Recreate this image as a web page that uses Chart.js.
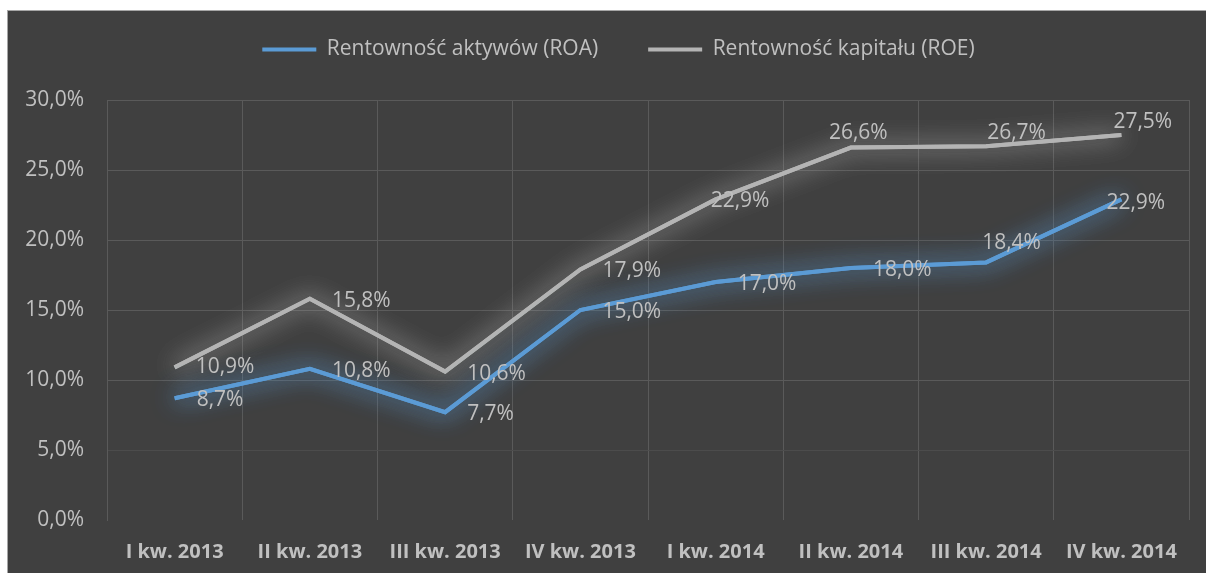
<!DOCTYPE html>
<html lang="pl">
    <head>
        <meta charset="UTF-8" />
        <title>Rentowność ROA / ROE</title>
        <script src="https://cdn.jsdelivr.net/npm/chart.js"></script>
        <style>
            body {
                margin: 0;
                background: #ffffff;
            }
            .chart-box {
                position: absolute;
                left: 7px;
                top: 10px;
                width: 1198px;
                height: 562px;
                background: #404040;
                border-top: 1px solid #a6a6a6;
                border-left: 1px solid #a6a6a6;
            }
        </style>
    </head>
    <body>
        <div class="chart-box">
            <canvas id="rentChart" width="1198" height="562"></canvas>
        </div>

        <script>
            const quarters = [
                "I kw. 2013",
                "II kw. 2013",
                "III kw. 2013",
                "IV kw. 2013",
                "I kw. 2014",
                "II kw. 2014",
                "III kw. 2014",
                "IV kw. 2014",
            ];
            const roa = [8.7, 10.8, 7.7, 15.0, 17.0, 18.0, 18.4, 22.9];
            const roe = [10.9, 15.8, 10.6, 17.9, 22.9, 26.6, 26.7, 27.5];
            const yTicks = [0, 5, 10, 15, 20, 25, 30];

            const textColor = "#c0c0c0";
            const fmt = (v) => v.toFixed(1).replace(".", ",") + "%";

            // label nudges (px) where Excel moved a label off its default spot
            const labelShifts = [
                { 6: [-4, -19], 7: [-15, 4] },
                { 0: [21, 0], 4: [-5, 2], 5: [-22, -15], 6: [1, -13], 7: [-8, -13] },
            ];

            // soft glow under each line, like the Excel effect
            // (line is drawn once extra with the shadow to make it stronger)
            const glowPlugin = {
                id: "glow",
                beforeDatasetDraw(chart, args) {
                    const ds = chart.data.datasets[args.index];
                    const ctx = chart.ctx;
                    ctx.save();
                    ctx.shadowColor = ds.glowColor;
                    ctx.shadowBlur = 24;
                    args.meta.dataset.draw(ctx, chart.chartArea);
                },
                afterDatasetDraw(chart) {
                    chart.ctx.restore();
                },
            };

            // value labels, mostly to the right of the point
            const labelPlugin = {
                id: "valueLabels",
                afterDatasetsDraw(chart) {
                    const ctx = chart.ctx;
                    ctx.save();
                    ctx.font = "21px 'Open Sans'";
                    ctx.fillStyle = textColor;
                    ctx.textAlign = "left";
                    ctx.textBaseline = "middle";
                    chart.data.datasets.forEach((ds, di) => {
                        const meta = chart.getDatasetMeta(di);
                        meta.data.forEach((pt, i) => {
                            const s = labelShifts[di][i] || [22, 2];
                            ctx.fillText(fmt(ds.data[i]), pt.x + s[0], pt.y + s[1]);
                        });
                    });
                    ctx.restore();
                },
            };

            // fixed legend height so the plot top lands where it should,
            // and the legend sits a little right of centre as in the original
            const legendSpace = {
                id: "legendSpace",
                beforeInit(chart) {
                    const fit = chart.legend.fit;
                    chart.legend.fit = function () {
                        fit.bind(chart.legend)();
                        this.height = 111;
                    };
                },
                afterLayout(chart) {
                    chart.legend.left += 20;
                    chart.legend.right += 20;
                },
            };

            new Chart(document.getElementById("rentChart"), {
                type: "line",
                data: {
                    labels: quarters,
                    datasets: [
                        {
                            label: "Rentowność aktywów (ROA)",
                            data: roa,
                            borderColor: "#5b9bd5",
                            backgroundColor: "#5b9bd5",
                            glowColor: "rgba(91, 155, 213, 0.9)",
                            borderWidth: 4,
                            pointRadius: 0,
                            pointStyle: "line",
                            tension: 0,
                        },
                        {
                            label: "Rentowność kapitału (ROE)",
                            data: roe,
                            borderColor: "#b4b4b4",
                            backgroundColor: "#b4b4b4",
                            glowColor: "rgba(215, 215, 215, 0.6)",
                            borderWidth: 4,
                            pointRadius: 0,
                            pointStyle: "line",
                            tension: 0,
                        },
                    ],
                },
                options: {
                    responsive: false,
                    animation: false,
                    layout: { padding: { left: 0, right: 17, top: -22, bottom: 0 } },
                    plugins: {
                        legend: {
                            position: "top",
                            labels: {
                                color: textColor,
                                font: { family: "'Open Sans'", size: 21 },
                                usePointStyle: true,
                                pointStyleWidth: 54,
                                padding: 50,
                            },
                        },
                        tooltip: { enabled: false },
                    },
                    scales: {
                        x: {
                            offset: true,
                            grid: {
                                offset: true,
                                color: "#5a5a5a",
                                lineWidth: 1,
                                drawTicks: false,
                            },
                            border: { display: false },
                            ticks: {
                                color: textColor,
                                font: { family: "'Open Sans'", size: 20, weight: "bold" },
                                padding: 20,
                            },
                            afterFit: (s) => {
                                s.height = 53;
                            },
                        },
                        y: {
                            min: 0,
                            max: 30,
                            afterBuildTicks: (s) => {
                                s.ticks = yTicks.map((v) => ({ value: v }));
                            },
                            grid: {
                                color: (c) =>
                                    c.tick.value === 0
                                        ? "rgba(0,0,0,0)"
                                        : c.tick.value === 5
                                        ? "#4c4c4c"
                                        : "#5a5a5a",
                                drawTicks: false,
                            },
                            border: { display: true, color: "#5a5a5a" },
                            ticks: {
                                color: textColor,
                                font: { family: "'Open Sans'", size: 21 },
                                padding: 23,
                                callback: (v) => fmt(v),
                            },
                            afterFit: (s) => {
                                s.width = 99;
                            },
                        },
                    },
                },
                plugins: [glowPlugin, labelPlugin, legendSpace],
            });
        </script>
    </body>
</html>
